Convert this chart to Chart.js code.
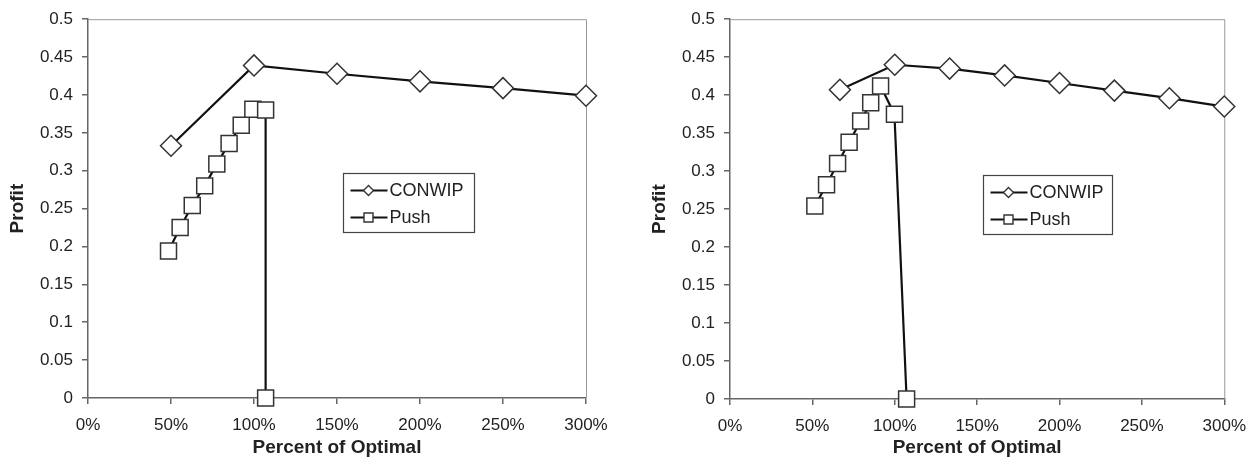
<!DOCTYPE html>
<html>
<head>
<meta charset="utf-8">
<script src="https://cdn.jsdelivr.net/npm/chart.js@4.4.1/dist/chart.umd.min.js"></script>
<style>
  html, body { margin: 0; padding: 0; background: #fff; }
  #wrap { position: relative; width: 1257px; height: 470px; }
  #leftChart { position: absolute; left: 0; top: 0; }
  #rightChart { position: absolute; left: 628px; top: 0; }
</style>
</head>
<body>
<div id="wrap">
  <canvas id="leftChart" width="628" height="470"></canvas>
  <canvas id="rightChart" width="629" height="470"></canvas>
</div>
<script>
// Datos
const seriesNames = ['CONWIP', 'Push'];
const xTickLabels = ['0%', '50%', '100%', '150%', '200%', '250%', '300%'];
const yTickLabels = ['0', '0.05', '0.1', '0.15', '0.2', '0.25', '0.3', '0.35', '0.4', '0.45', '0.5'];

// Grafico izquierdo
const conwipLeftX = [50, 100, 150, 200, 250, 300];
const conwipLeftY = [0.333, 0.439, 0.428, 0.418, 0.409, 0.399];
const pushLeftX = [48.5, 55.5, 62.8, 70.3, 77.6, 85, 92.3, 99.3, 107, 107];
const pushLeftY = [0.194, 0.225, 0.254, 0.280, 0.309, 0.336, 0.360, 0.381, 0.380, 0];

// Grafico derecho
const conwipRightX = [66.7, 100, 133.3, 166.7, 200, 233.3, 266.7, 300];
const conwipRightY = [0.407, 0.440, 0.435, 0.426, 0.416, 0.406, 0.396, 0.385];
const pushRightX = [51.5, 58.6, 65.3, 72.3, 79.3, 85.4, 91.4, 99.8, 107.2];
const pushRightY = [0.254, 0.282, 0.310, 0.338, 0.366, 0.390, 0.412, 0.375, 0];

const FONT = '"Liberation Sans", Arial, sans-serif';
const AXIS_COLOR = '#666';

function toPoints(xs, ys) {
    return xs.map((x, i) => ({ x: x, y: ys[i] }));
}

// Marco superior/derecho y leyenda dentro del area
const framePlugin = {
    id: 'frame',
    beforeDatasetsDraw(chart) {
        const { ctx, chartArea: a } = chart;
        ctx.save();
        ctx.strokeStyle = '#999';
        ctx.lineWidth = 1;
        ctx.beginPath();
        ctx.moveTo(a.left, a.top + 0.5);
        ctx.lineTo(a.right + 0.5, a.top + 0.5);
        ctx.lineTo(a.right + 0.5, a.bottom);
        ctx.stroke();
        ctx.restore();
    },
    afterDraw(chart) {
        const { ctx, chartArea: a } = chart;
        const o = chart.options.plugins.frame;
        const bx = Math.round(a.left + o.legendX * (a.right - a.left)) + 0.5;
        const by = Math.round(a.top + o.legendY * (a.bottom - a.top)) + 0.5;
        const bw = o.legendW, bh = 59;
        ctx.save();
        ctx.fillStyle = '#fff';
        ctx.fillRect(bx, by, bw, bh);
        ctx.strokeStyle = '#444';
        ctx.lineWidth = 1.2;
        ctx.strokeRect(bx, by, bw, bh);
        chart.data.datasets.forEach((ds, i) => {
            const cy = by + 17 + i * 27;
            ctx.strokeStyle = '#111';
            ctx.lineWidth = 2;
            ctx.beginPath();
            ctx.moveTo(bx + 7, cy);
            ctx.lineTo(bx + 44, cy);
            ctx.stroke();
            ctx.fillStyle = '#fff';
            ctx.strokeStyle = '#333';
            ctx.lineWidth = 1.4;
            ctx.beginPath();
            if (ds.pointStyle === 'rectRot') {
                ctx.moveTo(bx + 25, cy - 5);
                ctx.lineTo(bx + 30, cy);
                ctx.lineTo(bx + 25, cy + 5);
                ctx.lineTo(bx + 20, cy);
                ctx.closePath();
            } else {
                ctx.rect(bx + 20.5, cy - 4.5, 9, 9);
            }
            ctx.fill();
            ctx.stroke();
            ctx.fillStyle = '#222';
            ctx.font = '18px ' + FONT;
            ctx.textBaseline = 'middle';
            ctx.textAlign = 'left';
            ctx.fillText(ds.label, bx + 46, cy + 1);
        });
        ctx.restore();
    }
};

function makeChart(id, conwipPts, pushPts, cfg) {
    const ctx = document.getElementById(id).getContext('2d');
    return new Chart(ctx, {
        type: 'line',
        data: {
            datasets: [
                {
                    label: seriesNames[0],
                    data: conwipPts,
                    borderColor: '#111',
                    borderWidth: 2.2,
                    pointStyle: 'rectRot',
                    pointRadius: 10.5,
                    pointBackgroundColor: '#fff',
                    pointBorderColor: '#333',
                    pointBorderWidth: 1.5,
                    tension: 0,
                    clip: false
                },
                {
                    label: seriesNames[1],
                    data: pushPts,
                    borderColor: '#111',
                    borderWidth: 2.2,
                    pointStyle: 'rect',
                    pointRadius: 11.3,
                    pointBackgroundColor: '#fff',
                    pointBorderColor: '#333',
                    pointBorderWidth: 1.5,
                    tension: 0,
                    clip: false
                }
            ]
        },
        options: {
            responsive: false,
            animation: false,
            devicePixelRatio: 1,
            layout: { padding: { left: 0, top: 19, right: cfg.padRight, bottom: 0 } },
            plugins: {
                legend: { display: false },
                tooltip: { enabled: false },
                frame: { legendX: cfg.legendX, legendY: cfg.legendY, legendW: cfg.legendW }
            },
            scales: {
                x: {
                    type: 'linear',
                    min: 0,
                    max: 300,
                    afterFit: s => { s.height = cfg.xHeight; },
                    ticks: {
                        stepSize: 50,
                        padding: 11,
                        color: '#222',
                        font: { family: FONT, size: 17 },
                        callback: (v, i) => xTickLabels[i]
                    },
                    grid: { display: true, drawOnChartArea: false, drawTicks: true, tickLength: 6, color: AXIS_COLOR, lineWidth: 1.5 },
                    border: { display: true, color: AXIS_COLOR, width: 1.5 },
                    title: {
                        display: true,
                        text: 'Percent of Optimal',
                        color: '#222',
                        font: { family: FONT, size: 19, weight: 'bold' },
                        padding: { top: 0, bottom: 11 }
                    }
                },
                y: {
                    type: 'linear',
                    min: 0,
                    max: 0.5,
                    afterFit: s => { s.width = cfg.yWidth; },
                    ticks: {
                        stepSize: 0.05,
                        padding: 9,
                        color: '#222',
                        font: { family: FONT, size: 17 },
                        callback: (v, i) => yTickLabels[i]
                    },
                    grid: { display: true, drawOnChartArea: false, drawTicks: true, tickLength: 6, color: AXIS_COLOR, lineWidth: 1.5 },
                    border: { display: true, color: AXIS_COLOR, width: 1.5 },
                    title: {
                        display: true,
                        text: 'Profit',
                        color: '#222',
                        font: { family: FONT, size: 19, weight: 'bold' },
                        padding: { top: cfg.yTitlePad, bottom: 0 }
                    }
                }
            }
        },
        plugins: [framePlugin]
    });
}

makeChart('leftChart', toPoints(conwipLeftX, conwipLeftY), toPoints(pushLeftX, pushLeftY), {
    padRight: 42, xHeight: 72, yWidth: 88, yTitlePad: 6,
    legendX: 0.512, legendY: 0.406, legendW: 131
});

makeChart('rightChart', toPoints(conwipRightX, conwipRightY), toPoints(pushRightX, pushRightY), {
    padRight: 29, xHeight: 71, yWidth: 102, yTitlePad: 20,
    legendX: 0.512, legendY: 0.41, legendW: 129
});
</script>
</body>
</html>
